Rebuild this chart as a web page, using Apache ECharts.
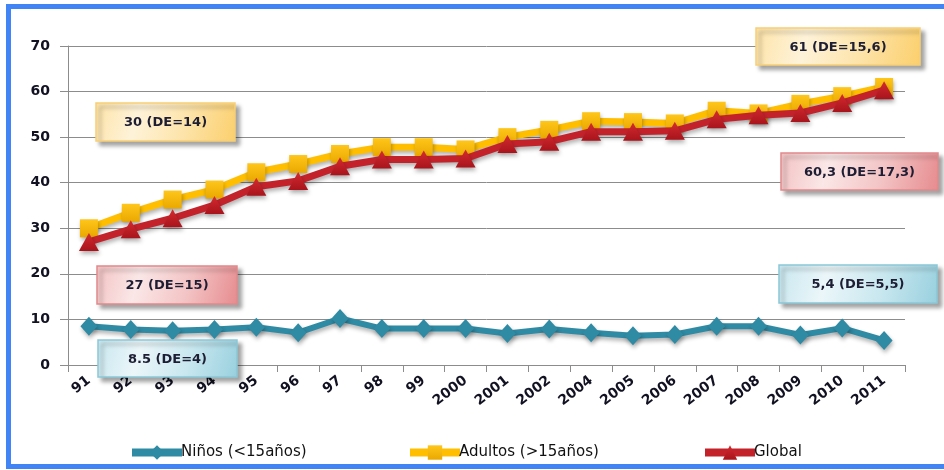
<!DOCTYPE html>
<html>
<head>
<meta charset="utf-8">
<script src="https://cdn.jsdelivr.net/npm/echarts@6/dist/echarts.min.js"></script>
<style>
  html, body { margin: 0; padding: 0; background: #ffffff; }
  #chart { width: 944px; height: 470px; }
</style>
</head>
<body>
<div id="chart"></div>
<script>
// Survey years on the horizontal axis
const years = ['91', '92', '93', '94', '95', '96', '97', '98', '99', '2000', '2001', '2002',
               '2004', '2005', '2006', '2007', '2008', '2009', '2010', '2011'];

// Mean values per group
const ninos   = [8.5, 7.8, 7.5, 7.8, 8.3, 7.1, 10.2, 8.0, 8.0, 8.0, 6.9, 7.9, 7.1, 6.4, 6.7, 8.5, 8.5, 6.6, 8.1, 5.4];
const adultos = [30, 33.4, 36.3, 38.5, 42.3, 44.1, 46.3, 47.8, 47.8, 47.3, 50.0, 51.6, 53.5, 53.3, 53.0, 55.8, 55.2, 57.3, 59.0, 61];
const global  = [27, 29.8, 32.2, 35.1, 39.1, 40.4, 43.6, 45.1, 45.1, 45.3, 48.5, 49.0, 51.2, 51.2, 51.4, 53.9, 54.8, 55.3, 57.5, 60.3];

const seriesNames = ['Niños (<15años)', 'Adultos (>15años)', 'Global'];
const yTicks = { min: 0, max: 70, step: 10 };

// Standard deviations shown next to the first and last year
const deAdultos = ['14', '15,6'];
const deGlobal  = ['15', '17,3'];
const deNinos   = ['4', '5,5'];

const fmt = (v, sep) => String(v).replace('.', sep);
const last = years.length - 1;

const noteAdultosFirst = `${fmt(adultos[0], ',')} (DE=${deAdultos[0]})`;
const noteAdultosLast  = `${fmt(adultos[last], ',')} (DE=${deAdultos[1]})`;
const noteGlobalFirst  = `${fmt(global[0], ',')} (DE=${deGlobal[0]})`;
const noteGlobalLast   = `${fmt(global[last], ',')} (DE=${deGlobal[1]})`;
const noteNinosFirst   = `${fmt(ninos[0], '.')} (DE=${deNinos[0]})`;
const noteNinosLast    = `${fmt(ninos[last], ',')} (DE=${deNinos[1]})`;

const TEAL = '#2f8aa3';
const GOLD = '#ffbf00';
const RED  = '#c3222b';

const chart = echarts.init(document.getElementById('chart'), null, { renderer: 'canvas' });

// Soft diagonal fill: pale near the top-left, deeper toward the bottom-right edge
function boxFill(light, mid, dark) {
  return new echarts.graphic.LinearGradient(0, 0, 1, 1, [
    { offset: 0, color: mid },
    { offset: 0.3, color: light },
    { offset: 0.65, color: mid },
    { offset: 1, color: dark }
  ]);
}

const palettes = {
  gold: { fill: ['#fef3d9', '#fde3a8', '#fbcf6c'], stroke: '#f8cf76' },
  red:  { fill: ['#fbe7e7', '#f3c3c4', '#e68b8e'], stroke: '#e2898c' },
  teal: { fill: ['#ebf6f9', '#c8e7ef', '#98d0de'], stroke: '#8ac7d7' }
};

// A shaded callout box with its caption centred inside
function noteBox(x, y, w, h, text, pal) {
  const p = palettes[pal];
  return [
    {
      type: 'rect',
      z: 100,
      shape: { x: x, y: y, width: w, height: h },
      style: {
        fill: boxFill(p.fill[0], p.fill[1], p.fill[2]),
        stroke: p.stroke,
        lineWidth: 1.5,
        shadowBlur: 4,
        shadowOffsetX: 4,
        shadowOffsetY: 4,
        shadowColor: 'rgba(0,0,0,0.35)'
      }
    },
    {
      type: 'text',
      z: 101,
      x: x + w / 2,
      y: y + h / 2 + 1,
      style: {
        text: text,
        fill: '#1d1d33',
        font: 'bold 13px "DejaVu Sans"',
        textAlign: 'center',
        textVerticalAlign: 'middle'
      }
    }
  ];
}

const lineShadow = { shadowBlur: 4, shadowOffsetX: 1, shadowOffsetY: 3, shadowColor: 'rgba(0,0,0,0.3)' };

function makeLegend(name, left) {
  return {
    data: [name],
    left: left,
    top: 440,
    itemWidth: 50,
    itemHeight: 18,
    itemGap: 0,
    lineStyle: { width: 8 },
    textStyle: { fontFamily: 'DejaVu Sans', fontSize: 15, color: '#111111', padding: [0, 0, 0, -6] }
  };
}

chart.setOption({
  animation: false,
  backgroundColor: '#ffffff',
  grid: { left: 68, right: 39, top: 46, bottom: 105, containLabel: false },
  legend: [
    makeLegend(seriesNames[0], 123),
    makeLegend(seriesNames[1], 401),
    makeLegend(seriesNames[2], 696)
  ],
  xAxis: {
    type: 'category',
    data: years,
    boundaryGap: true,
    axisLine: { lineStyle: { color: '#8c8c8c', width: 1 } },
    axisTick: { show: true, length: 7, lineStyle: { color: '#8c8c8c' } },
    axisLabel: {
      rotate: 38,
      margin: 14,
      fontFamily: 'DejaVu Sans',
      fontWeight: 'bold',
      fontSize: 14,
      color: '#111122'
    },
    splitLine: { show: false }
  },
  yAxis: {
    type: 'value',
    min: yTicks.min,
    max: yTicks.max,
    interval: yTicks.step,
    axisLine: { show: true, lineStyle: { color: '#8c8c8c', width: 1 } },
    axisTick: { show: true, length: 8, lineStyle: { color: '#8c8c8c' } },
    axisLabel: {
      margin: 18,
      fontFamily: 'DejaVu Sans',
      fontWeight: 'bold',
      fontSize: 14,
      color: '#111122'
    },
    splitLine: { show: true, lineStyle: { color: '#8c8c8c', width: 1 } }
  },
  series: [
    {
      name: seriesNames[0],
      type: 'line',
      data: ninos,
      symbol: 'diamond',
      symbolSize: [17, 19],
      color: TEAL,
      lineStyle: Object.assign({ color: TEAL, width: 6 }, lineShadow),
      itemStyle: Object.assign({ color: TEAL }, lineShadow),
      z: 3
    },
    {
      name: seriesNames[1],
      type: 'line',
      data: adultos,
      symbol: 'rect',
      symbolSize: 18,
      color: GOLD,
      lineStyle: Object.assign({ color: GOLD, width: 7 }, lineShadow),
      itemStyle: Object.assign({
        color: new echarts.graphic.LinearGradient(0, 0, 0, 1, [
          { offset: 0, color: '#ffc61a' },
          { offset: 1, color: '#eaa800' }
        ])
      }, lineShadow),
      z: 4
    },
    {
      name: seriesNames[2],
      type: 'line',
      data: global,
      symbol: 'triangle',
      symbolSize: [20, 18],
      color: RED,
      lineStyle: Object.assign({ color: RED, width: 7 }, lineShadow),
      itemStyle: Object.assign({
        color: new echarts.graphic.LinearGradient(0, 0, 0, 1, [
          { offset: 0, color: '#d42a2f' },
          { offset: 1, color: '#a8141c' }
        ])
      }, lineShadow),
      z: 5
    }
  ],
  graphic: [
    {
      type: 'rect',
      z: 200, silent: true,
      shape: { x: 8.5, y: 6.5, width: 980, height: 460 },
      style: { fill: 'none', stroke: '#4184f6', lineWidth: 5 }
    }
  ].concat(
    noteBox(96, 103, 139, 38, noteAdultosFirst, 'gold'),
    noteBox(756, 28, 164, 37, noteAdultosLast, 'gold'),
    noteBox(781, 153, 157, 37, noteGlobalLast, 'red'),
    noteBox(97, 266, 140, 38, noteGlobalFirst, 'red'),
    noteBox(98, 340, 139, 37, noteNinosFirst, 'teal'),
    noteBox(779, 265, 158, 38, noteNinosLast, 'teal')
  )
});
</script>
</body>
</html>
